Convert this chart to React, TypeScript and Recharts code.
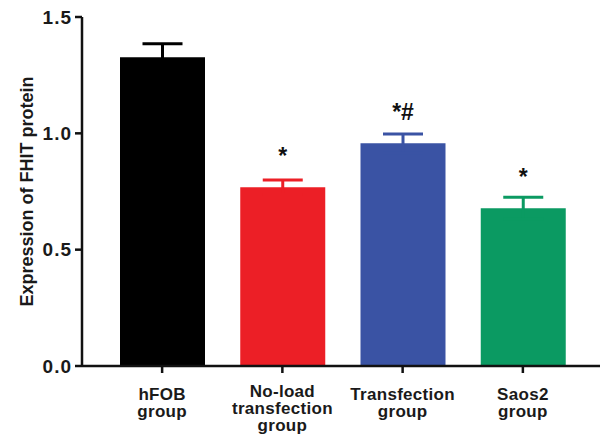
import { BarChart, Bar, XAxis, YAxis, Cell, ErrorBar, LabelList } from 'recharts'

const groups = ['hFOB\ngroup', 'No-load\ntransfection\ngroup', 'Transfection\ngroup', 'Saos2\ngroup']
const means = [1.327, 0.768, 0.957, 0.678]
const errors = [0.058, 0.031, 0.04, 0.047]
const marks = ['', '*', '*#', '*']
const colors = ['#000000', '#ec1f26', '#3a53a4', '#0b9a62']
const yTicks = [0, 0.5, 1.0, 1.5]

const data = groups.map((g, i) => ({ group: g, value: means[i], err: errors[i], mark: marks[i] }))

const font = '"Liberation Sans", Arial, sans-serif'

function GroupTick({ x, y, payload }: any) {
  const lines = String(payload.value).split('\n')
  const start = lines.length > 2 ? 22 : 25
  return (
    <text x={x} y={y} textAnchor="middle" fontFamily={font} fontWeight="bold" fontSize={17} letterSpacing={0.3} fill="#1a1a1a">
      {lines.map((l, i) => (
        <tspan key={i} x={x} dy={i === 0 ? start : 17}>{l}</tspan>
      ))}
    </text>
  )
}

function MarkLabel({ x, y, width, value }: any) {
  if (!value) return null
  return (
    <text x={x + width / 2} y={y - 23} textAnchor="middle" fontFamily={font} fontWeight="bold" fontSize={23} fill="#111">
      {value}
    </text>
  )
}

export default function App() {
  return (
    <div style={{ position: 'absolute', left: 0, top: 0, background: '#fff' }}>
      <BarChart width={605} height={434} data={data} margin={{ top: 17, right: 5, left: 0, bottom: 0 }} barSize={85}>
        <XAxis
          dataKey="group"
          height={68}
          padding={{ left: 20, right: 17 }}
          axisLine={{ stroke: '#111', strokeWidth: 2.5 }}
          tickLine={{ stroke: '#111', strokeWidth: 2.5 }}
          tickSize={7}
          tick={<GroupTick />}
          interval={0}
        />
        <YAxis
          width={82}
          domain={[0, 1.5]}
          ticks={yTicks}
          tickFormatter={(v: number) => v.toFixed(1)}
          axisLine={{ stroke: '#111', strokeWidth: 2.5 }}
          tickLine={{ stroke: '#111', strokeWidth: 2.5 }}
          tickSize={7}
          tickMargin={3}
          tick={{ fontFamily: font, fontWeight: 'bold', fontSize: 19, letterSpacing: 1, fill: '#1a1a1a' }}
          label={{
            value: 'Expression of FHIT protein',
            angle: -90,
            position: 'insideLeft',
            offset: 27,
            style: { textAnchor: 'middle', fontFamily: font, fontWeight: 'bold', fontSize: 18, fill: '#1a1a1a' },
          }}
        />
        <Bar dataKey="value" isAnimationActive={false}>
          {data.map((d, i) => (
            <Cell key={d.group} fill={colors[i]} />
          ))}
          {data.map((d, i) => (
            <ErrorBar
              key={'e' + i}
              dataKey={(row: any) => (row.group === d.group ? row.err : null)}
              width={20}
              stroke={colors[i]}
              strokeWidth={3}
              isAnimationActive={false}
            />
          ))}
          <LabelList dataKey="mark" content={<MarkLabel />} />
        </Bar>
      </BarChart>
    </div>
  )
}
